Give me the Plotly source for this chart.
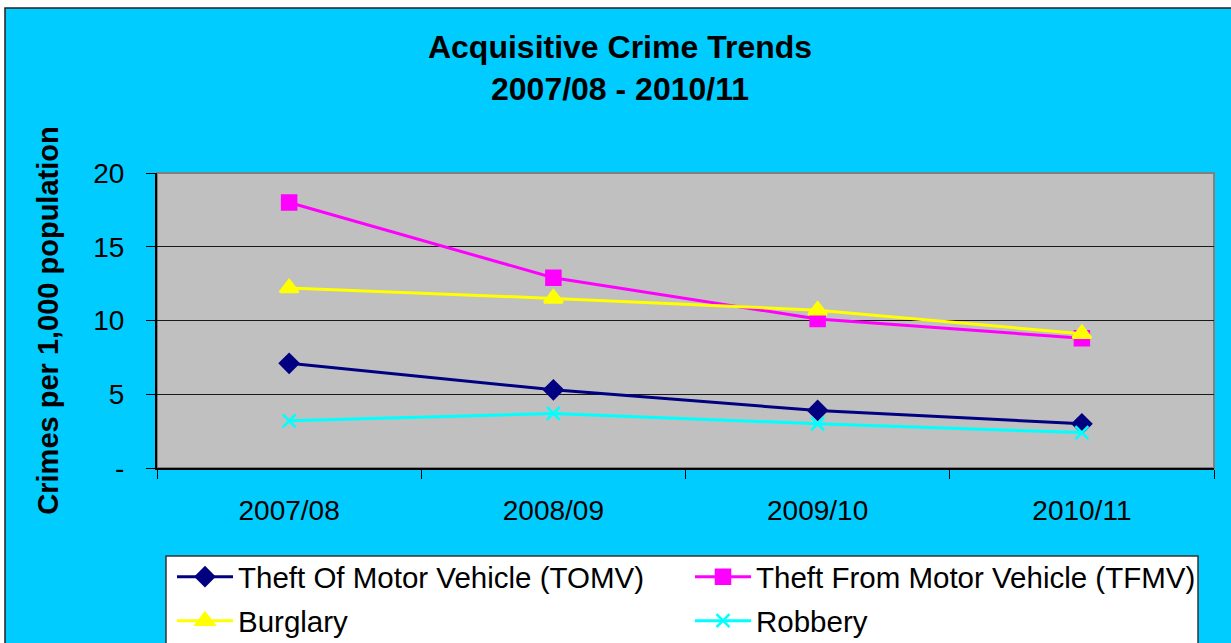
import plotly.graph_objects as go

categories = ["2007/08", "2008/09", "2009/10", "2010/11"]
tomv = [7.1, 5.3, 3.9, 3.0]
tfmv = [18.0, 12.9, 10.1, 8.8]
burglary = [12.2, 11.5, 10.7, 9.1]
robbery = [3.2, 3.7, 3.0, 2.4]

y_tickvals = [0, 5, 10, 15, 20]
y_ticktext = ["-", "5", "10", "15", "20"]

W, H = 1231, 643
L, R, T, B = 157, 1214, 173, 468  # plot area pixels


def px(x):
    return (x - L) / (R - L)


def py(y):
    return (B - y) / (B - T)


FONT = "Liberation Sans, Arial, sans-serif"

fig = go.Figure()
series = [
    ("Theft Of Motor Vehicle (TOMV)", tomv, "#000080", "diamond", 14, "legend"),
    ("Theft From Motor Vehicle (TFMV)", tfmv, "#FF00FF", "square", 14, "legend"),
    ("Burglary", burglary, "#FFFF00", "triangle-up", 16, "legend2"),
    ("Robbery", robbery, "#00FFFF", "x-thin", 13, "legend2"),
]
for name, vals, col, sym, size, lg in series:
    fig.add_trace(go.Scatter(
        x=categories, y=vals, name=name, mode="lines+markers",
        line=dict(color=col, width=3),
        marker=dict(symbol=sym, size=size, color=col,
                    line=dict(color=col, width=2.5)),
        legend=lg,
    ))

shapes = [
    # chart box
    dict(type="rect", xref="paper", yref="paper", layer="below",
         x0=px(5), x1=px(1240), y0=py(660), y1=py(8),
         fillcolor="#00CCFF", line=dict(color="#222222", width=1.5)),
    # plot area
    dict(type="rect", xref="paper", yref="paper", layer="below",
         x0=0, x1=1, y0=0, y1=1,
         fillcolor="#C0C0C0", line=dict(color="#808080", width=2)),
    # legend box
    dict(type="rect", xref="paper", yref="paper", layer="below",
         x0=px(166), x1=px(1198), y0=py(660), y1=py(556),
         fillcolor="#FFFFFF", line=dict(color="#333333", width=1.5)),
]

fig.update_layout(
    width=W, height=H,
    margin=dict(l=L, r=W - R, t=T, b=H - B, pad=0),
    paper_bgcolor="#FFFFFF",
    plot_bgcolor="rgba(0,0,0,0)",
    font=dict(family=FONT, color="#000000", size=28),
    title=dict(
        text="<b>Acquisitive Crime Trends<br>2007/08 - 2010/11</b>",
        x=620 / W, xanchor="center", xref="container",
        y=1 - 58 / H, yanchor="top", yref="container",
        font=dict(size=32, family=FONT),
    ),
    shapes=shapes,
    showlegend=True,
    legend=dict(
        orientation="h", xref="container", yref="container",
        x=172 / W, xanchor="left", y=1 - 551 / H, yanchor="top",
        bgcolor="rgba(0,0,0,0)", borderwidth=0,
        font=dict(size=29.5, family=FONT),
        itemwidth=56, entrywidth=447, entrywidthmode="pixels",
        tracegroupgap=0,
    ),
    legend2=dict(
        orientation="h", xref="container", yref="container",
        x=172 / W, xanchor="left", y=1 - 595 / H, yanchor="top",
        bgcolor="rgba(0,0,0,0)", borderwidth=0,
        font=dict(size=29.5, family=FONT),
        itemwidth=56, entrywidth=447, entrywidthmode="pixels",
        tracegroupgap=0,
    ),
    xaxis=dict(
        type="category", range=[-0.5, 3.5], tickson="boundaries",
        ticks="outside", ticklen=9, tickcolor="#000000", tickwidth=1,
        showline=True, linecolor="#000000", linewidth=2,
        showgrid=False, zeroline=False,
        tickfont=dict(size=28, family=FONT), ticklabelstandoff=16,
    ),
    yaxis=dict(
        range=[0, 20], tickvals=y_tickvals, ticktext=y_ticktext,
        ticks="outside", ticklen=9, tickcolor="#000000", tickwidth=1,
        showline=True, linecolor="#000000", linewidth=2,
        showgrid=True, gridcolor="#1a1a1a", gridwidth=1,
        zeroline=False,
        tickfont=dict(size=28, family=FONT), ticklabelstandoff=16,
        title=dict(text="<b>Crimes per 1,000 population</b>",
                   font=dict(size=29, family=FONT), standoff=26),
    ),
)

fig.write_html("out.html", config={"displayModeBar": False},
               post_script="document.body.style.margin='0';")
